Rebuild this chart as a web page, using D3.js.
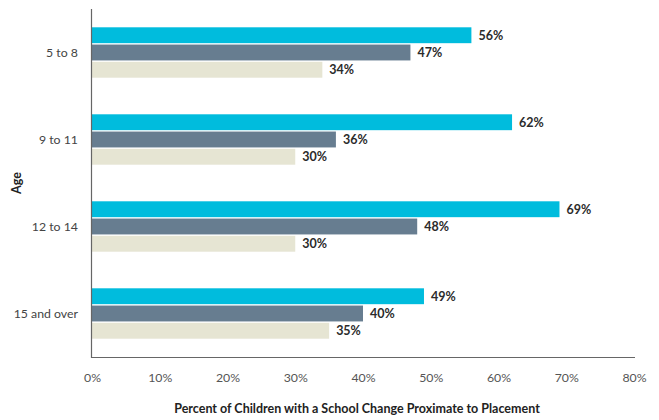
<!DOCTYPE html>
<html>
<head>
<meta charset="utf-8">
<script src="https://cdn.jsdelivr.net/npm/d3@7"></script>
<style>
  html, body { margin: 0; padding: 0; background: #fff; }
  svg { display: block; font-family: "Lato", "Open Sans", sans-serif; }
  .tick text { fill: #555; }
</style>
</head>
<body>
<svg id="chart" width="659" height="420"></svg>
<script>
// Age groups and the share of children in each with a school change
const categories = ["5 to 8", "9 to 11", "12 to 14", "15 and over"];
const seriesNames = ["a", "b", "c"];
const seriesA = [56, 62, 69, 49];
const seriesB = [47, 36, 48, 40];
const seriesC = [34, 30, 30, 35];
const xTicks = [0, 10, 20, 30, 40, 50, 60, 70, 80];
const colors = ["#00bcdd", "#677d90", "#e6e5d3"];

const rows = categories.map((c, i) => ({
  cat: c,
  vals: [seriesA[i], seriesB[i], seriesC[i]]
}));

const svg = d3.select("#chart");
const m = { left: 92, right: 634, top: 9, bottom: 357 };

const x = d3.scaleLinear().domain([0, 80]).range([m.left, m.right]);
const y = d3.scaleBand().domain(categories).range([m.top, m.bottom]).padding(0);
const yInner = d3.scaleBand().domain(seriesNames).range([0, y.bandwidth()])
  .paddingInner(0.08).paddingOuter(1.06);

const groups = svg.append("g").selectAll("g").data(rows).join("g")
  .attr("transform", d => `translate(0,${y(d.cat)})`);

groups.selectAll("rect").data(d => d.vals.map((v, k) => ({ v, k })))
  .join("rect")
  .attr("x", x(0))
  .attr("y", d => yInner(seriesNames[d.k]))
  .attr("width", d => x(d.v) - x(0))
  .attr("height", yInner.bandwidth())
  .attr("fill", d => colors[d.k]);

groups.selectAll("text.val").data(d => d.vals.map((v, k) => ({ v, k })))
  .join("text")
  .attr("class", "val")
  .attr("x", d => x(d.v) + 7)
  .attr("y", d => yInner(seriesNames[d.k]) + yInner.bandwidth() / 2)
  .attr("dy", "0.35em")
  .attr("font-size", 12.5)
  .attr("font-weight", "bold")
  .attr("fill", "#2b2b2b")
  .text(d => d.v + "%");

// Category labels
svg.append("g").selectAll("text").data(categories).join("text")
  .attr("x", 78)
  .attr("y", d => y(d) + y.bandwidth() / 2)
  .attr("dy", "0.35em")
  .attr("text-anchor", "end")
  .attr("font-size", 12.3)
  .attr("fill", "#444")
  .text(d => d);

// Axis lines
svg.append("line")
  .attr("x1", m.left - 0.5).attr("x2", m.left - 0.5)
  .attr("y1", m.top).attr("y2", m.bottom + 1)
  .attr("stroke", "#666").attr("stroke-width", 1.2);
svg.append("line")
  .attr("x1", m.left - 1).attr("x2", m.right + 1)
  .attr("y1", m.bottom + 0.5).attr("y2", m.bottom + 0.5)
  .attr("stroke", "#666").attr("stroke-width", 1.2);

// X axis tick labels
const xAxis = d3.axisBottom(x).tickValues(xTicks).tickSize(0)
  .tickFormat(d => d + "%");
const gx = svg.append("g").attr("transform", `translate(0,${m.bottom + 13})`).call(xAxis);
gx.select(".domain").remove();
gx.selectAll("text").attr("font-size", 12.3).attr("font-family", "Lato, 'Open Sans', sans-serif");

// Axis titles
svg.append("text")
  .attr("x", 357).attr("y", 413)
  .attr("text-anchor", "middle")
  .attr("font-size", 12.5).attr("font-weight", "bold").attr("fill", "#222")
  .text("Percent of Children with a School Change Proximate to Placement");
svg.append("text")
  .attr("transform", "translate(21,183) rotate(-90)")
  .attr("text-anchor", "middle")
  .attr("font-size", 12.5).attr("font-weight", "bold").attr("fill", "#222")
  .text("Age");
</script>
</body>
</html>
